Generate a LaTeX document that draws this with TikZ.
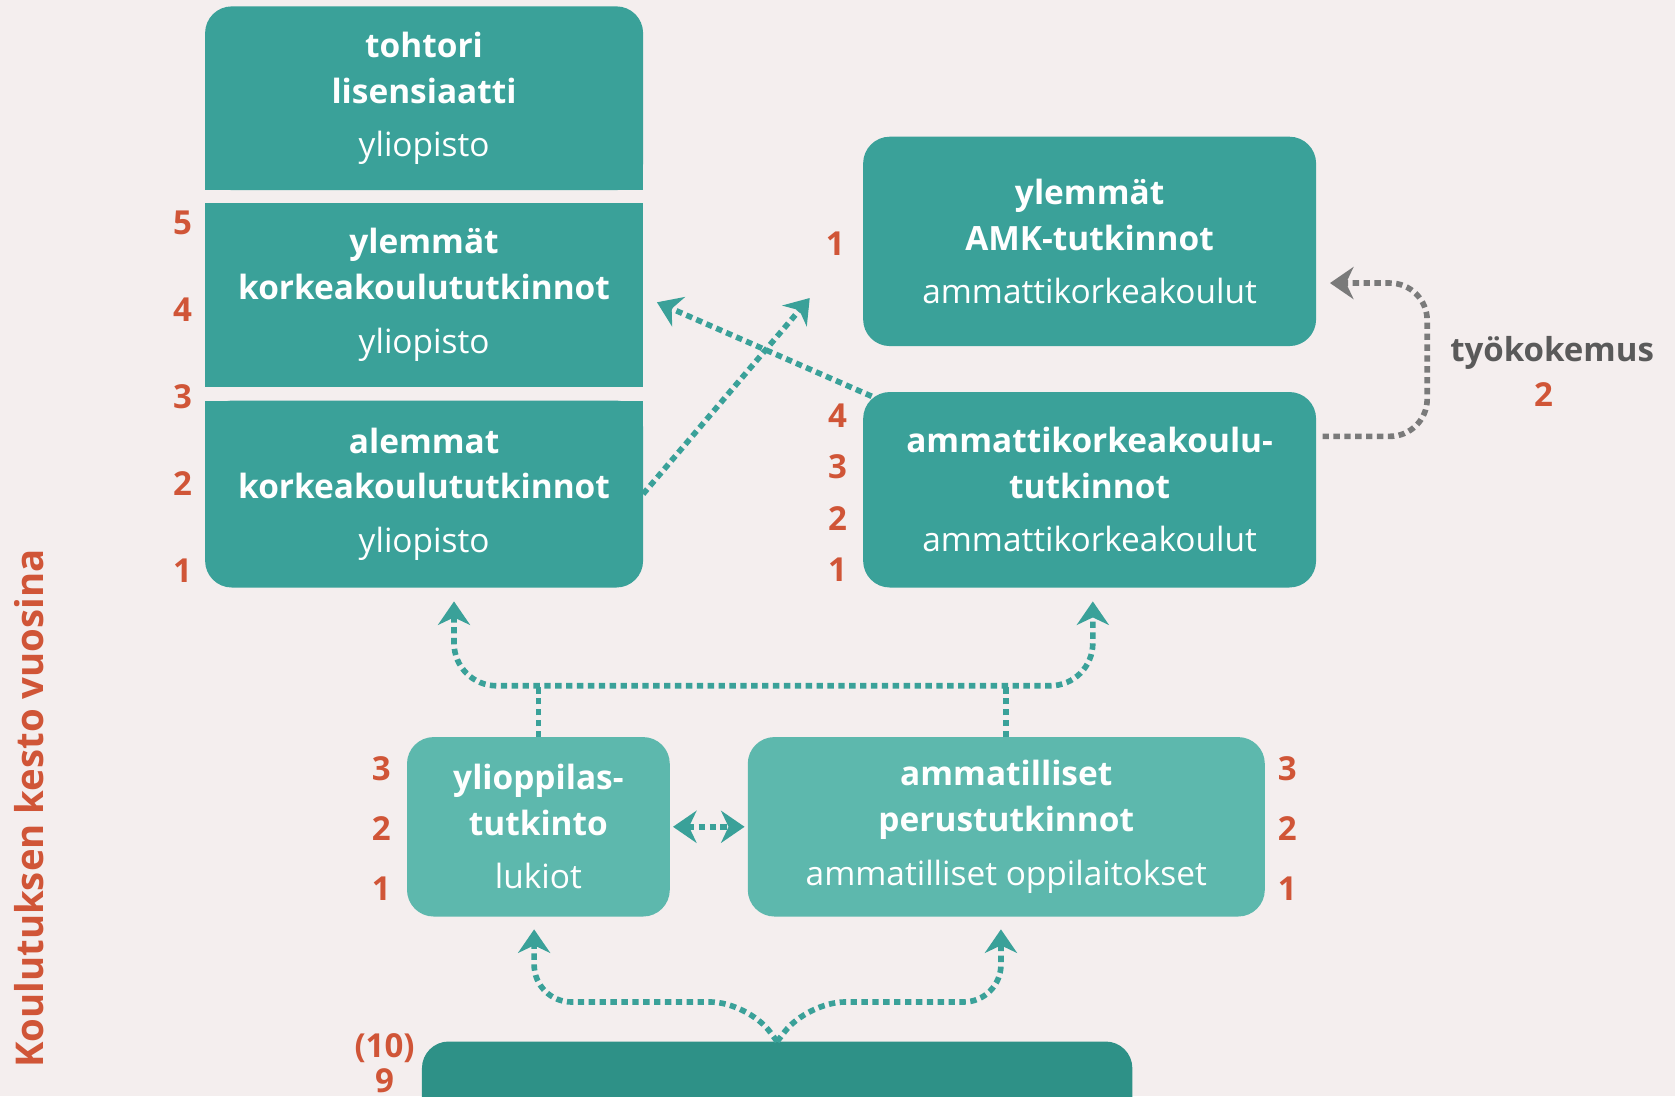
\documentclass[tikz,border=0pt]{standalone}
\usepackage{fontspec}
\setmainfont{Open Sans}
\usetikzlibrary{arrows.meta,backgrounds,calc}
\definecolor{bgpink}{HTML}{F4EEEE}
\definecolor{boxteal}{HTML}{3AA199}
\definecolor{lightteal}{HTML}{5DB8AD}
\definecolor{darkteal}{HTML}{2E9187}
\definecolor{yearred}{HTML}{D05537}
\definecolor{arrowgray}{HTML}{7A7A7A}
\definecolor{textgray}{HTML}{5A5A5A}
\tikzset{
  degree/.style={fill=boxteal, text=white, inner sep=0pt, outer sep=0pt, align=center,
    font=\fontsize{8.9}{12.2}\selectfont, rounded corners=0.25cm},
  yearnum/.style={text=yearred, inner sep=0pt, font=\bfseries\fontsize{8.8}{10}\selectfont},
  pathway/.style={boxteal, line width=1.5pt, dash pattern=on 1.7pt off 1.2pt},
  workpath/.style={arrowgray, line width=1.5pt, dash pattern=on 1.7pt off 1.2pt},
}
\begin{document}
\begin{tikzpicture}[>={Stealth[length=2.2mm,width=3mm,inset=0.7mm]}]
  \useasboundingbox (0,0) rectangle (15.68,10.26);
  \clip (0,0) rectangle (15.68,10.26);
  \begin{scope}[on background layer]
    \fill[bgpink] (0,0) rectangle (15.68,10.26);
  \end{scope}

  % yliopisto
  \node[degree, minimum width=4.1cm, minimum height=1.72cm] (tohtori) at (3.97,9.34)
    {\textbf{tohtori}\\\textbf{lisensiaatti}\\[2pt]yliopisto};
  \node[degree, sharp corners, minimum width=4.1cm, minimum height=1.72cm] (ylempi) at (3.97,7.50)
    {\textbf{ylemmät}\\\textbf{korkeakoulututkinnot}\\[2pt]yliopisto};
  \node[degree, minimum width=4.1cm, minimum height=1.75cm] (alempi) at (3.97,5.635)
    {\textbf{alemmat}\\\textbf{korkeakoulututkinnot}\\[2pt]yliopisto};
  \begin{scope}[on background layer]
    \fill[boxteal] (tohtori.west) rectangle (tohtori.south east);
    \fill[boxteal] (alempi.north west) rectangle (alempi.east);
  \end{scope}

  % ammattikorkeakoulut
  \node[degree, minimum width=4.24cm, minimum height=1.96cm] (amkylempi) at (10.20,8.00)
    {\textbf{ylemmät}\\\textbf{AMK-tutkinnot}\\[2pt]ammattikorkeakoulut};
  \node[degree, minimum width=4.24cm, minimum height=1.83cm] (amk) at (10.20,5.675)
    {\textbf{ammattikorkeakoulu-}\\\textbf{tutkinnot}\\[2pt]ammattikorkeakoulut};

  % toinen aste ja perusopetus
  \node[degree, fill=lightteal, minimum width=2.46cm, minimum height=1.68cm] (lukio) at (5.04,2.52)
    {\textbf{ylioppilas-}\\\textbf{tutkinto}\\[2pt]lukiot};
  \node[degree, fill=lightteal, minimum width=4.84cm, minimum height=1.68cm] (ammatill) at (9.42,2.52)
    {\textbf{ammatilliset}\\\textbf{perustutkinnot}\\[2pt]ammatilliset oppilaitokset};
  \node[degree, fill=darkteal, minimum width=6.65cm, minimum height=1.3cm] (perus) at (7.275,-0.14) {};

  % vuodet
  \foreach \n/\y in {5/8.17,4/7.36,3/6.55,2/5.73,1/4.92}
    \node[yearnum] (yo\n) at (1.71,\y) {\n};
  \node[yearnum] (amkyl1) at (7.82,7.98) {1};
  \foreach \n/\y in {4/6.37,3/5.89,2/5.41,1/4.93}
    \node[yearnum] (amk\n) at (7.84,\y) {\n};
  \foreach \n/\y in {3/3.06,2/2.50,1/1.94} {
    \node[yearnum] (lu\n) at (3.57,\y) {\n};
    \node[yearnum] (am\n) at (12.05,\y) {\n};
  }
  \node[yearnum] (pk10) at (3.60,0.45) {(10)};
  \node[yearnum] (pk9) at (3.60,0.14) {9};
  \node[yearnum, rotate=90, font=\bfseries\fontsize{10.2}{12}\selectfont] (kesto) at (0.27,2.69)
    {Koulutuksen kesto vuosina};

  \node[text=textgray, inner sep=0pt, font=\bfseries\fontsize{8.8}{10}\selectfont] (tyo) at (14.53,6.96) {työkokemus};
  \node[yearnum] (tyo2) at (14.45,6.57) {2};

  % jatko-opinnot
  \coordinate (tipA) at (7.58,7.47);
  \coordinate (tipB) at (6.15,7.43);
  \draw[pathway, ->] (alempi.east) -- (tipA);
  \draw[pathway, ->] ($(amk.north west)+(0.08,-0.04)$) -- (tipB);

  \coordinate (tipW) at (12.45,7.61);
  \draw[workpath, ->, rounded corners=0.35cm] ($(amk.east)+(0.06,0.5)$) -| (13.36,7.61) -- (tipW);

  \coordinate (upL) at (4.25,4.63);
  \coordinate (upR) at (10.23,4.63);
  \coordinate (bus) at (7,3.84);
  \draw[pathway, <->, rounded corners=0.4cm] (upL) |- (bus) -| (upR);
  \draw[pathway] (lukio.north) -- (lukio.north |- bus);
  \draw[pathway] (ammatill.north) -- (ammatill.north |- bus);
  \draw[pathway, <->, shorten <=0.03cm, shorten >=0.03cm] (lukio.east) -- (ammatill.west);

  \coordinate (dnL) at (5.00,1.56);
  \coordinate (dnR) at (9.37,1.56);
  \draw[pathway, ->, rounded corners=0.35cm] (perus.north) -- (7.0,0.88) -- (5.0,0.88) -- (dnL);
  \draw[pathway, ->, rounded corners=0.35cm] (perus.north) -- (7.56,0.88) -- (9.37,0.88) -- (dnR);
\end{tikzpicture}
\end{document}
